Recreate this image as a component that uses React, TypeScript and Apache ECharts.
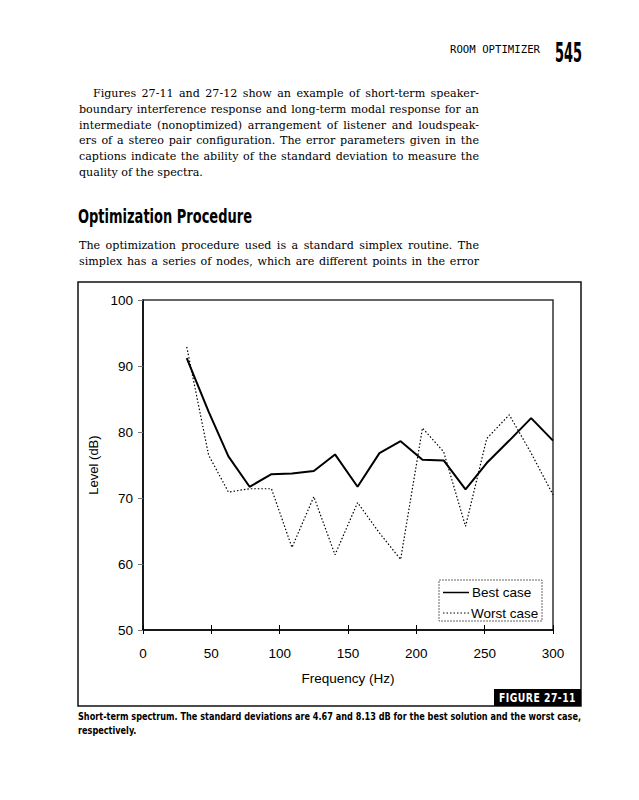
import React, { useEffect, useRef } from 'react';
import * as echarts from 'echarts';

// ---- chart data ----
const frequencyHz = [32, 48, 62.5, 78, 94, 109, 125, 140.5, 157, 173, 188.5, 204.5, 220, 236, 251.5, 268, 284, 300];
const bestCase = [91.2, 83.1, 76.3, 71.7, 73.6, 73.7, 74.1, 76.6, 71.7, 76.8, 78.6, 75.8, 75.7, 71.3, 75.3, 78.7, 82.1, 78.7];
const worstCase = [92.9, 76.5, 70.9, 71.4, 71.4, 62.5, 70.2, 61.4, 69.3, 64.7, 60.7, 80.6, 77.0, 65.7, 79.0, 82.6, 76.8, 70.5];
const seriesNames = ['Best case', 'Worst case'];
const xRange = [0, 300];
const xStep = 50;
const yRange = [50, 100];
const yStep = 10;
const xAxisTitle = 'Frequency (Hz)';
const yAxisTitle = 'Level (dB)';

// ---- page texts ----
const headerText = 'ROOM OPTIMIZER';
const pageNumber = '545';
const paragraph1 = [
  'Figures 27-11 and 27-12 show an example of short-term speaker-',
  'boundary interference response and long-term modal response for an',
  'intermediate (nonoptimized) arrangement of listener and loudspeak-',
  'ers of a stereo pair configuration. The error parameters given in the',
  'captions indicate the ability of the standard deviation to measure the',
  'quality of the spectra.',
];
const headingText = 'Optimization Procedure';
const paragraph2 = [
  'The optimization procedure used is a standard simplex routine. The',
  'simplex has a series of nodes, which are different points in the error',
];
const figureLabel = 'FIGURE 27-11';
const captionLines = [
  'Short-term spectrum. The standard deviations are 4.67 and 8.13 dB for the best solution and the worst case,',
  'respectively.',
];

let measureCtx: CanvasRenderingContext2D | null = null;
function textWidth(text: string, family: string, size: number, weight: string) {
  if (!measureCtx) measureCtx = document.createElement('canvas').getContext('2d');
  measureCtx!.font = `${weight} ${size}px ${family}`;
  return measureCtx!.measureText(text).width;
}

type LineProps = {
  text: string;
  x: number;
  cy: number;
  width?: number;
  family: string;
  size: number;
  weight?: string;
  mode?: 'left' | 'justify' | 'fit';
  scale?: number;
  color?: string;
  lh?: number;
  spacing?: number;
};

function fitScale(text: string, family: string, size: number, weight: string, width: number) {
  return width / textWidth(text, family, size, weight);
}

function Line({ text, x, cy, width = 0, family, size, weight = 'normal', mode = 'left', scale, color = '#000', lh = 16, spacing = 0 }: LineProps) {
  const style: any = {
    position: 'absolute',
    left: x,
    top: cy - lh / 2,
    height: lh,
    fontFamily: family,
    fontSize: size,
    fontWeight: weight,
    lineHeight: lh + 'px',
    whiteSpace: 'nowrap',
    letterSpacing: spacing ? spacing + 'px' : undefined,
    color,
  };
  const w = textWidth(text, family, size, weight) + spacing * text.length;
  let s = scale;
  if (mode === 'justify') {
    const spaces = (text.match(/ /g) || []).length;
    const extra = (width - w) / Math.max(1, spaces);
    if (extra >= -0.3) style.wordSpacing = extra + 'px';
    else s = width / w;
  } else if (mode === 'fit') {
    s = width / w;
  }
  if (s !== undefined) {
    style.transform = `scaleX(${s})`;
    style.transformOrigin = 'left center';
  }
  return <div style={style}>{text}</div>;
}

const SERIF = '"DejaVu Serif", serif';
const COND = '"DejaVu Sans Condensed", "DejaVu Sans", sans-serif';
const MONO = '"DejaVu Sans Mono", monospace';
const ARIAL = '"Liberation Sans", Arial, sans-serif';

export default function App() {
  const ref = useRef<HTMLDivElement>(null);

  useEffect(() => {
    if (!ref.current) return;
    const chart = echarts.init(ref.current, null, { renderer: 'svg' });
    const legendX = 443;
    const legendRows = [592.5, 613];
    const option: any = {
      animation: false,
      textStyle: { fontFamily: ARIAL },
      grid: {
        left: 143,
        top: 300,
        width: 410,
        height: 330,
        show: true,
        borderColor: '#333',
        borderWidth: 1.5,
        backgroundColor: 'transparent',
      },
      xAxis: [
        {
          type: 'value',
          min: xRange[0],
          max: xRange[1],
          interval: xStep,
          position: 'bottom',
          axisLine: { lineStyle: { color: '#000', width: 1.5 } },
          axisTick: { length: 4, lineStyle: { color: '#000', width: 1 } },
          axisLabel: { margin: 16, fontSize: 13.5, color: '#000', fontFamily: ARIAL },
          splitLine: { show: false },
          name: xAxisTitle,
          nameLocation: 'middle',
          nameGap: 41,
          nameTextStyle: { fontSize: 13.5, color: '#000', fontFamily: ARIAL },
        },
        {
          type: 'value',
          min: xRange[0],
          max: xRange[1],
          interval: xStep,
          position: 'bottom',
          axisLine: { show: false },
          axisTick: { inside: true, length: 5, lineStyle: { color: '#000', width: 1 } },
          axisLabel: { show: false },
          splitLine: { show: false },
        },
      ],
      yAxis: {
        type: 'value',
        min: yRange[0],
        max: yRange[1],
        interval: yStep,
        axisLine: { show: true, lineStyle: { color: '#000', width: 1.5 } },
        axisTick: { show: true, length: 5, lineStyle: { color: '#777', width: 1 } },
        axisLabel: { margin: 10, fontSize: 13.5, color: '#000', fontFamily: ARIAL },
        splitLine: { show: false },
        name: yAxisTitle,
        nameLocation: 'middle',
        nameGap: 35,
        nameTextStyle: { fontSize: 13, color: '#000', fontFamily: ARIAL },
      },
      graphic: [
        {
          type: 'rect',
          z: -1,
          shape: { x: 78, y: 282, width: 503, height: 424 },
          style: { fill: 'none', stroke: '#111', lineWidth: 1.5 },
        },
        {
          type: 'rect',
          z: 1,
          shape: { x: 439, y: 580, width: 103, height: 41 },
          style: { fill: '#fff', stroke: '#666', lineWidth: 1, lineDash: [2, 1] },
        },
        {
          type: 'line',
          z: 2,
          shape: { x1: legendX, y1: legendRows[0], x2: legendX + 26, y2: legendRows[0] },
          style: { stroke: '#000', lineWidth: 1.5 },
        },
        {
          type: 'text',
          z: 2,
          x: legendX + 29,
          y: legendRows[0],
          style: { text: seriesNames[0], fill: '#000', font: `13.5px ${ARIAL}`, verticalAlign: 'middle', align: 'left' },
        },
        {
          type: 'line',
          z: 2,
          shape: { x1: legendX, y1: legendRows[1], x2: legendX + 26, y2: legendRows[1] },
          style: { stroke: '#000', lineWidth: 1.2, lineDash: [1.5, 2] },
        },
        {
          type: 'text',
          z: 2,
          x: legendX + 28,
          y: legendRows[1],
          style: { text: seriesNames[1], fill: '#000', font: `13.5px ${ARIAL}`, verticalAlign: 'middle', align: 'left' },
        },
      ],
      series: [
        {
          name: seriesNames[0],
          type: 'line',
          xAxisIndex: 0,
          data: frequencyHz.map((f, i) => [f, bestCase[i]]),
          symbol: 'none',
          lineStyle: { color: '#000', width: 2 },
          itemStyle: { color: '#000' },
          z: 3,
        },
        {
          name: seriesNames[1],
          type: 'line',
          xAxisIndex: 0,
          data: frequencyHz.map((f, i) => [f, worstCase[i]]),
          symbol: 'none',
          lineStyle: { color: '#000', width: 1.2, type: [1.5, 2] },
          itemStyle: { color: '#000' },
          z: 3,
        },
      ],
    };
    chart.setOption(option);
    return () => chart.dispose();
  }, []);

  const colW = 400;
  const justified = [...paragraph1.slice(0, -1), ...paragraph2];
  const maxW10 = Math.max(
    ...justified.map((t, i) => textWidth(t, SERIF, 10, 'normal') + (i === 0 ? 14 * 10 / 11.5 : 0))
  );
  const bodySize = Math.min(12.5, (10 * colW) / maxW10 * 0.985);
  const bodyLead = 15.8;
  const p1Top = 94;
  const p2Top = 246;
  const captionScale = fitScale(captionLines[0], COND, 10, 'bold', 503);

  return (
    <div style={{ position: 'absolute', left: 0, top: 0, width: 639, height: 800, background: '#fff', overflow: 'hidden' }}>
      <div ref={ref} style={{ position: 'absolute', left: 0, top: 0, width: 639, height: 800 }} />
      <div style={{ position: 'absolute', left: 0, top: 0, width: 639, height: 800, pointerEvents: 'none' }}>
        <Line text={headerText} x={450} cy={49} width={90} family={MONO} size={10.5} mode="fit" />
        <Line text={pageNumber} x={555} cy={53} width={27} family={COND} size={26} weight="bold" mode="fit" lh={28} />
        {paragraph1.map((t, i) => (
          <Line
            key={'p1' + i}
            text={t}
            x={i === 0 ? 93 : 79}
            cy={p1Top + i * bodyLead}
            width={i === 0 ? colW - 14 : colW}
            family={SERIF}
            size={bodySize}
            mode={i === paragraph1.length - 1 ? 'left' : 'justify'}
          />
        ))}
        <Line text={headingText} x={78} cy={216} width={174} family={COND} size={20} weight="bold" mode="fit" lh={24} />
        {paragraph2.map((t, i) => (
          <Line
            key={'p2' + i}
            text={t}
            x={79}
            cy={p2Top + i * bodyLead}
            width={colW}
            family={SERIF}
            size={bodySize}
            mode="justify"
          />
        ))}
        <div
          style={{
            position: 'absolute',
            left: 494,
            top: 689,
            width: 87,
            height: 17,
            background: '#000',
          }}
        />
        <Line text={figureLabel} x={499} cy={697.5} width={77} family={COND} size={12.5} weight="bold" mode="fit" color="#fff" lh={17} spacing={0.6} />
        <Line text={captionLines[0]} x={78} cy={717} family={COND} size={10} weight="bold" scale={captionScale} lh={14} />
        <Line text={captionLines[1]} x={78} cy={731} family={COND} size={10} weight="bold" scale={captionScale} lh={14} />
      </div>
    </div>
  );
}
